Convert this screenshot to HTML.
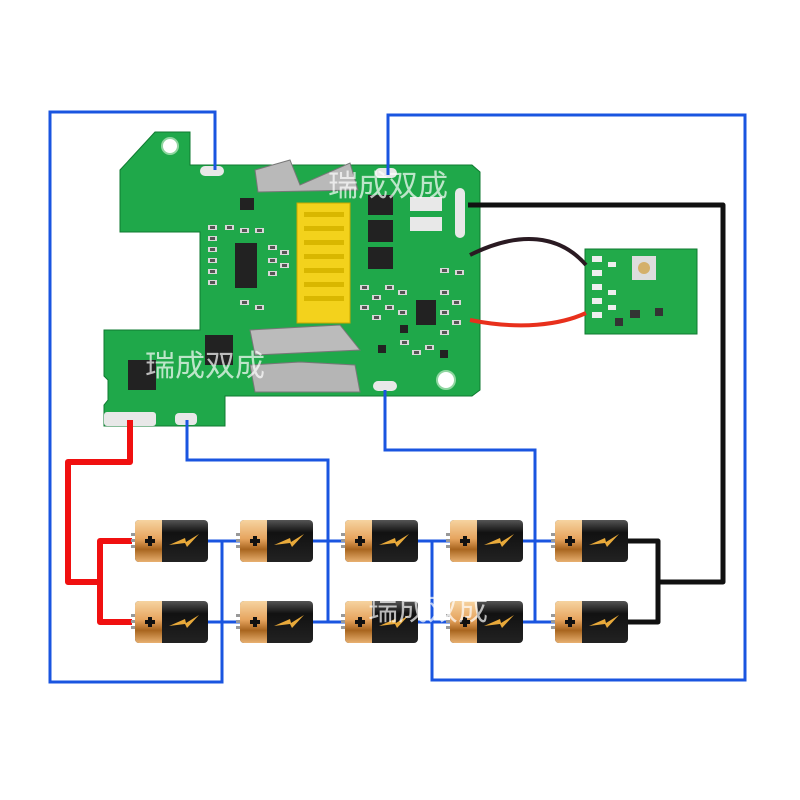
<!DOCTYPE html>
<html><head><meta charset="utf-8"><style>body{margin:0;background:#fff}svg{display:block}</style></head><body>
<svg width="800" height="800" viewBox="0 0 800 800" xmlns="http://www.w3.org/2000/svg">
<defs>
<linearGradient id="cu" x1="0" y1="0" x2="0" y2="1"><stop offset="0" stop-color="#f6d3a0"/><stop offset="0.45" stop-color="#e6a45e"/><stop offset="0.7" stop-color="#a8651f"/><stop offset="1" stop-color="#e8b070"/></linearGradient>
<linearGradient id="bk" x1="0" y1="0" x2="0" y2="1"><stop offset="0" stop-color="#555"/><stop offset="0.3" stop-color="#111"/><stop offset="1" stop-color="#222"/></linearGradient>
<g id="bat">
<rect x="-4" y="-8" width="5" height="3" fill="#999"/><rect x="-4" y="-2" width="5" height="3" fill="#999"/><rect x="-4" y="4" width="5" height="3" fill="#999"/>
<rect x="0" y="-21" width="73" height="42" rx="4" fill="url(#bk)"/>
<path d="M4 -21 H27 V21 H4 A4 4 0 0 1 0 17 V-17 A4 4 0 0 1 4 -21Z" fill="url(#cu)"/>
<rect x="10" y="-2" width="10" height="4" fill="#111"/><rect x="13" y="-5" width="4" height="10" fill="#111"/>
<path d="M34 4 L50 -3 L51 1 L64 -7 L52 6 L50 2 Z" fill="#e8a93a"/>
</g>
<g id="r"><rect x="0" y="0" width="9" height="5" fill="#d8d8d8"/><rect x="2" y="1" width="5" height="3" fill="#555"/></g>
</defs>
<path d="M155 132 H190 V165 H472 L480 172 V390 L472 396 H225 V426 H104 V405 L108 400 V380 L104 376 V330 H200 V232 H120 V170 Z" fill="#1fa84a" stroke="#0f7a30" stroke-width="1"/>
<circle cx="170" cy="146" r="8" fill="#fff" stroke="#8fd6a0" stroke-width="2"/>
<circle cx="446" cy="380" r="9" fill="#fff" stroke="#8fd6a0" stroke-width="2"/>
<rect x="297" y="203" width="53" height="120" fill="#f3d21c" stroke="#c9a800"/>
<g fill="#d9b700"><rect x="304" y="212" width="40" height="5"/><rect x="304" y="226" width="40" height="5"/><rect x="304" y="240" width="40" height="5"/><rect x="304" y="254" width="40" height="5"/><rect x="304" y="268" width="40" height="5"/><rect x="304" y="282" width="40" height="5"/><rect x="304" y="296" width="40" height="5"/></g>
<path d="M255 170 L290 160 L300 185 L350 163 L358 190 L258 192 Z" fill="#b9b9b9" stroke="#777"/>
<path d="M250 330 L340 325 L360 350 L255 355 Z" fill="#bbb" stroke="#777"/>
<path d="M250 365 L300 362 L355 365 L360 392 L255 392 Z" fill="#b5b5b5" stroke="#777"/>
<g fill="#222"><rect x="368" y="195" width="25" height="20"/><rect x="368" y="220" width="25" height="22"/><rect x="368" y="247" width="25" height="22"/><rect x="235" y="243" width="22" height="45"/><rect x="416" y="300" width="20" height="25"/><rect x="128" y="360" width="28" height="30"/><rect x="205" y="335" width="28" height="30"/><rect x="240" y="198" width="14" height="12"/></g>
<g fill="#e8e8e8"><rect x="410" y="197" width="32" height="14"/><rect x="410" y="217" width="32" height="14"/><rect x="455" y="188" width="10" height="50" rx="5"/><rect x="200" y="166" width="24" height="10" rx="5"/><rect x="375" y="168" width="22" height="10" rx="5"/><rect x="373" y="381" width="24" height="10" rx="5"/><rect x="104" y="412" width="52" height="14" rx="3"/><rect x="175" y="413" width="22" height="12" rx="4"/></g>
<use href="#r" x="208" y="225"/><use href="#r" x="208" y="236"/><use href="#r" x="208" y="247"/><use href="#r" x="208" y="258"/><use href="#r" x="208" y="269"/><use href="#r" x="208" y="280"/>
<use href="#r" x="225" y="225"/><use href="#r" x="240" y="228"/><use href="#r" x="255" y="228"/><use href="#r" x="268" y="245"/><use href="#r" x="268" y="258"/><use href="#r" x="268" y="271"/><use href="#r" x="280" y="250"/><use href="#r" x="280" y="263"/><use href="#r" x="240" y="300"/><use href="#r" x="255" y="305"/>
<use href="#r" x="360" y="285"/><use href="#r" x="372" y="295"/><use href="#r" x="385" y="285"/><use href="#r" x="398" y="290"/><use href="#r" x="360" y="305"/><use href="#r" x="372" y="315"/><use href="#r" x="385" y="305"/><use href="#r" x="398" y="310"/><use href="#r" x="440" y="290"/><use href="#r" x="452" y="300"/><use href="#r" x="440" y="310"/><use href="#r" x="452" y="320"/><use href="#r" x="440" y="330"/><use href="#r" x="400" y="340"/><use href="#r" x="412" y="350"/><use href="#r" x="425" y="345"/><use href="#r" x="455" y="270"/><use href="#r" x="440" y="268"/>
<g fill="#222"><rect x="378" y="345" width="8" height="8"/><rect x="400" y="325" width="8" height="8"/><rect x="440" y="350" width="8" height="8"/></g>
<rect x="585" y="249" width="112" height="85" fill="#22aa4a" stroke="#0f7a30"/>
<rect x="632" y="256" width="24" height="24" fill="#ddd"/><circle cx="644" cy="268" r="6" fill="#d4b06a"/>
<g fill="#333"><rect x="630" y="310" width="10" height="8"/><rect x="655" y="308" width="8" height="8"/><rect x="615" y="318" width="8" height="8"/></g>
<g fill="#eee"><rect x="592" y="256" width="10" height="6"/><rect x="592" y="270" width="10" height="6"/><rect x="592" y="284" width="10" height="6"/><rect x="592" y="298" width="10" height="6"/><rect x="592" y="312" width="10" height="6"/><rect x="608" y="262" width="8" height="5"/><rect x="608" y="290" width="8" height="5"/><rect x="608" y="305" width="8" height="5"/></g>
<g fill="none" stroke="#1a55e0" stroke-width="3">
<path d="M215 170 V112 H50 V682 H222 V541"/>
<path d="M388 175 V115 H745 V680 H432 V541"/>
<path d="M187 420 V460 H328 V622"/>
<path d="M385 390 V450 H535 V622"/>
<path d="M208 541 H240 M313 541 H345 M418 541 H450 M523 541 H555"/>
<path d="M208 622 H240 M313 622 H345 M418 622 H450 M523 622 H555"/>
</g>
<g fill="none" stroke="#111" stroke-width="5" stroke-linejoin="round">
<path d="M468 205 H723 V582 H658"/>
<path d="M628 541 H658 V622 H628"/>
</g>
<path d="M470 255 C520 230 560 235 586 265" fill="none" stroke="#2a1a22" stroke-width="4"/>
<path d="M470 320 C520 330 560 325 586 313" fill="none" stroke="#e8301c" stroke-width="4"/>
<g fill="none" stroke="#f01010" stroke-width="6" stroke-linejoin="round">
<path d="M130 420 V462 H68 V582 H100"/>
<path d="M132 541 H100 V622 H132"/>
</g>
<use href="#bat" x="135" y="541"/><use href="#bat" x="240" y="541"/><use href="#bat" x="345" y="541"/><use href="#bat" x="450" y="541"/><use href="#bat" x="555" y="541"/>
<use href="#bat" x="135" y="622"/><use href="#bat" x="240" y="622"/><use href="#bat" x="345" y="622"/><use href="#bat" x="450" y="622"/><use href="#bat" x="555" y="622"/>
<g font-family="Liberation Sans, Noto Sans CJK SC, sans-serif" font-size="30" fill="#fff" fill-opacity="0.7">
<text x="328" y="196">瑞成双成</text><text x="145" y="376">瑞成双成</text><text x="368" y="620">瑞成双成</text>
</g>
</svg>
</body></html>
